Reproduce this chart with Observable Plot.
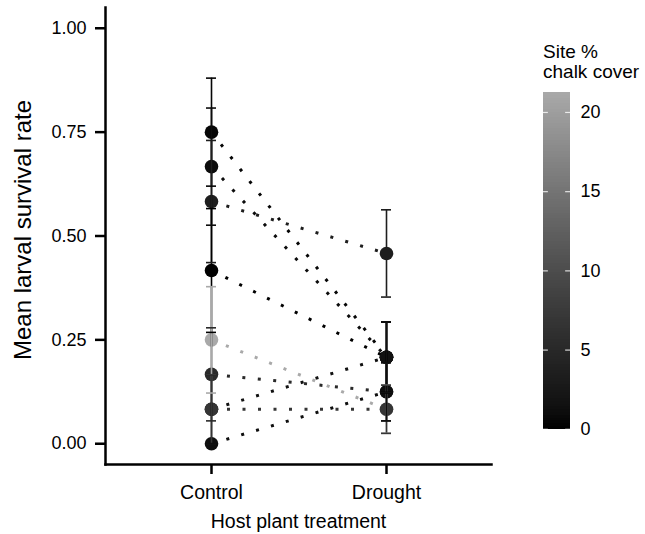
<!DOCTYPE html>
<html><head><meta charset="utf-8">
<script src="https://cdn.jsdelivr.net/npm/d3@7"></script>
<script src="https://cdn.jsdelivr.net/npm/@observablehq/plot@0.6"></script>
<style>
html,body{margin:0;padding:0;background:#fff;}
#chart{position:relative;width:645px;height:534px;font-family:"Liberation Sans",Arial,sans-serif;}
#legend-title{position:absolute;left:543px;top:42px;font-size:19px;line-height:19.5px;color:#000;white-space:nowrap;}
#colorbar{position:absolute;left:543px;top:81.7px;}
</style></head><body>
<div id="chart"><div id="legend-title">Site %<br>chalk cover</div><div id="colorbar"></div></div>
<script>
// ---- data ----
const treatments = ["Control", "Drought"];
const sites = ["A", "B", "C", "D", "F", "E", "H", "G", "I"];
const controlMean = [0.750, 0.667, 0.583, 0.417, 0.167, 0.250, 0.083, 0.083, 0.000];
const controlSE   = [0.130, 0.141, 0.147, 0.149, 0.112, 0.128, 0.083, 0.083, 0.000];
const droughtMean = [0.208, 0.208, 0.458, 0.208, 0.125, 0.083, 0.208, 0.083, 0.125];
const droughtSE   = [0.085, 0.085, 0.105, 0.085, 0.070, 0.058, 0.085, 0.058, 0.070];
const chalkCover  = [0.5, 1.0, 3.5, 0.0, 5.2, 21.26, 1.5, 6.8, 1.2];
const yTicks = [0, 0.25, 0.5, 0.75, 1];
const legendTicks = [0, 5, 10, 15, 20];
const yTitle = "Mean larval survival rate";
const xTitle = "Host plant treatment";

const rows = [];
sites.forEach((s, i) => {
  rows.push({site: s, treatment: treatments[0], mean: controlMean[i], se: controlSE[i], cover: chalkCover[i]});
  rows.push({site: s, treatment: treatments[1], mean: droughtMean[i], se: droughtSE[i], cover: chalkCover[i]});
});

const maxCover = d3.max(chalkCover);
const colorOpts = {type: "linear", domain: [0, maxCover], range: ["#000000", "#a9a9a9"], interpolate: "lab"};
const font = "Liberation Sans, Arial, sans-serif";

const main = Plot.plot({
  width: 645, height: 534,
  marginLeft: 105, marginRight: 154, marginTop: 7, marginBottom: 70,
  style: {fontFamily: font, background: "white", color: "black", overflow: "visible"},
  x: {type: "point", domain: treatments, padding: 0.6},
  y: {domain: [-0.05, 1.05]},
  color: colorOpts,
  marks: [
    Plot.line(rows, {x: "treatment", y: "mean", z: "site", stroke: "cover", strokeWidth: 3, strokeDasharray: "3 12.5", strokeLinecap: "butt"}),
    Plot.dot(rows, {x: "treatment", y: "mean", fill: "cover", r: 6.8}),
    Plot.ruleX(rows, {x: "treatment", y1: d => d.mean - d.se, y2: d => d.mean + d.se, stroke: "cover", strokeWidth: 1.6}),
    Plot.ruleY(rows, {x1: "treatment", x2: "treatment", y: d => d.mean - d.se, stroke: "cover", strokeWidth: 1.6, insetLeft: -5, insetRight: -5}),
    Plot.ruleY(rows, {x1: "treatment", x2: "treatment", y: d => d.mean + d.se, stroke: "cover", strokeWidth: 1.6, insetLeft: -5, insetRight: -5}),
    Plot.frame({anchor: "left", strokeWidth: 2.5}),
    Plot.frame({anchor: "bottom", strokeWidth: 2.5}),
    Plot.axisY(yTicks, {tickFormat: d3.format(".2f"), tickSize: 10, tickPadding: 9, fontSize: 18, strokeWidth: 2.5, label: null}),
    Plot.axisX({tickSize: 10, tickPadding: 11, fontSize: 19.5, strokeWidth: 2.5, label: null}),
    Plot.text([yTitle], {text: d => d, frameAnchor: "left", textAnchor: "middle", rotate: -90, dx: -82.5, dy: -6, fontSize: 24, lineAnchor: "middle"}),
    Plot.text([xTitle], {text: d => d, frameAnchor: "bottom", textAnchor: "middle", dy: 63, fontSize: 19.5, lineAnchor: "bottom"})
  ]
});
document.getElementById("chart").prepend(main);

// ---- colour bar ----
const nSlices = 120;
const slices = d3.range(nSlices).map(k => ({y1: maxCover * k / nSlices, y2: maxCover * (k + 1) / nSlices}));
const bar = Plot.plot({
  width: 102, height: 356.8,
  marginLeft: 0, marginRight: 75, marginTop: 10, marginBottom: 10,
  style: {fontFamily: font, background: "transparent", color: "black", overflow: "visible"},
  x: {domain: [0, 1], axis: null},
  y: {domain: [0, maxCover]},
  color: colorOpts,
  marks: [
    Plot.rect(slices, {x1: 0, x2: 1, y1: "y1", y2: d => Math.min(maxCover, d.y2 + maxCover / nSlices), fill: d => (d.y1 + d.y2) / 2, shapeRendering: "crispEdges"}),
    Plot.ruleY(legendTicks, {x1: 0, x2: 0.18, stroke: "white", strokeOpacity: 0.8, strokeWidth: 1.2}),
    Plot.ruleY(legendTicks, {x1: 0.82, x2: 1, stroke: "white", strokeOpacity: 0.8, strokeWidth: 1.2}),
    Plot.axisY(legendTicks, {anchor: "right", tickSize: 0, tickPadding: 10, fontSize: 18, label: null})
  ]
});
document.getElementById("colorbar").appendChild(bar);
</script>
</body></html>
